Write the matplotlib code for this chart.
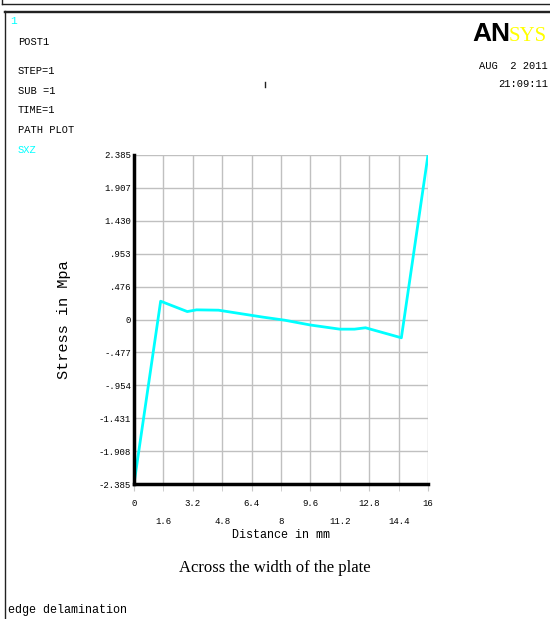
import numpy as np
import matplotlib
matplotlib.use("Agg")
import matplotlib.pyplot as plt
from matplotlib.lines import Line2D

# path plot data (distance in mm, SXZ stress in MPa)
distance = [0, 1.45, 2.9, 3.4, 4.6, 5.8, 7.0, 8.2, 9.6, 11.2, 12.0, 12.6, 14.55, 16]
stress = [-2.385, 0.265, 0.115, 0.14, 0.135, 0.085, 0.035, -0.01, -0.08,
          -0.14, -0.14, -0.12, -0.265, 2.385]

x_even = [0, 3.2, 6.4, 9.6, 12.8, 16]
x_even_labels = ["0", "3.2", "6.4", "9.6", "12.8", "16"]
x_odd = [1.6, 4.8, 8.0, 11.2, 14.4]
x_odd_labels = ["1.6", "4.8", "8", "11.2", "14.4"]
y_ticks = [2.385, 1.907, 1.430, 0.953, 0.476, 0, -0.477, -0.954, -1.431, -1.908, -2.385]
y_labels = ["2.385", "1.907", "1.430", ".953", ".476", "0",
            "-.477", "-.954", "-1.431", "-1.908", "-2.385"]

header = ["POST1", "", "STEP=1", "SUB =1", "TIME=1", "PATH PLOT"]

W, H = 550, 619
mono = "Liberation Mono"

fig = plt.figure(figsize=(W / 100, H / 100), dpi=100)

def fx(px):
    return px / W

def fy(py):
    return 1 - py / H

ax = fig.add_axes([fx(134), fy(484), fx(428) - fx(134), fy(155) - fy(484)])
ax.plot(distance, stress, color="#00ffff", lw=2, zorder=3)

ax.set_xlim(0, 16)
ax.set_ylim(-2.385, 2.385)
ax.set_xticks(x_even)
ax.set_xticklabels(x_even_labels, fontfamily=mono, fontsize=6.5)
ax.set_xticks(x_odd, minor=True)
ax.set_xticklabels(x_odd_labels, minor=True, fontfamily=mono, fontsize=6.5)
ax.set_yticks(y_ticks)
ax.set_yticklabels(y_labels, fontfamily=mono, fontsize=6.5)

ax.tick_params(axis="x", which="major", length=5, color="#c8c8c8", pad=6)
ax.tick_params(axis="x", which="minor", length=5, color="#c8c8c8", pad=19)
ax.tick_params(axis="y", length=0, pad=2)
ax.grid(True, which="both", color="#c0c0c0", lw=1)

for s in ["top", "right"]:
    ax.spines[s].set_visible(False)
for s in ["left", "bottom"]:
    ax.spines[s].set_linewidth(2.5)
    ax.spines[s].set_zorder(4)

ax.set_xlabel("Distance in mm", fontfamily=mono, fontsize=8.5, labelpad=2)
ax.set_ylabel("Stress in Mpa", fontfamily=mono, fontsize=11, labelpad=20)

# frame lines around the window
frame = [
    ((2, 550), (3.5, 3.5)),
    ((2, 2), (0, 3.5)),
    ((4, 550), (10.7, 10.7)),
    ((4, 550), (12.3, 12.3)),
    ((4.5, 4.5), (11, 619)),
    ((265, 265), (82, 87)),
]
for xs, ys in frame:
    fig.add_artist(Line2D([fx(v) for v in xs], [fy(v) for v in ys],
                          color="#222222", lw=1))

fig.text(fx(10), fy(21), "1", color="#00ffff", fontfamily=mono, fontsize=8, va="center")
for i, line in enumerate(header):
    if line:
        fig.text(fx(18), fy(42 + i * 19.5 - (0 if i < 2 else 10)), line,
                 fontfamily=mono, fontsize=7.5, va="center")
fig.text(fx(18), fy(150), "SXZ", color="#00ffff", fontfamily=mono, fontsize=7.5, va="center")

fig.text(fx(548), fy(66), "AUG  2 2011", fontfamily=mono, fontsize=7.5, ha="right", va="center")
fig.text(fx(548), fy(84), "21:09:11", fontfamily=mono, fontsize=7.5, ha="right", va="center")

# logo
fig.text(fx(472), fy(41), "AN", fontfamily="Liberation Sans",
         fontweight="bold", fontsize=19, color="black", va="baseline")
fig.text(fx(509), fy(41), "SYS", fontfamily="Liberation Serif",
         fontsize=15, color="#ffff00", va="baseline")

fig.text(0.5, fy(568), "Across the width of the plate", fontfamily="Liberation Serif",
         fontsize=12, ha="center", va="center")
fig.text(fx(8), fy(610), "edge delamination", fontfamily=mono, fontsize=8.5, va="center")

fig.savefig("out.png", dpi=100)
